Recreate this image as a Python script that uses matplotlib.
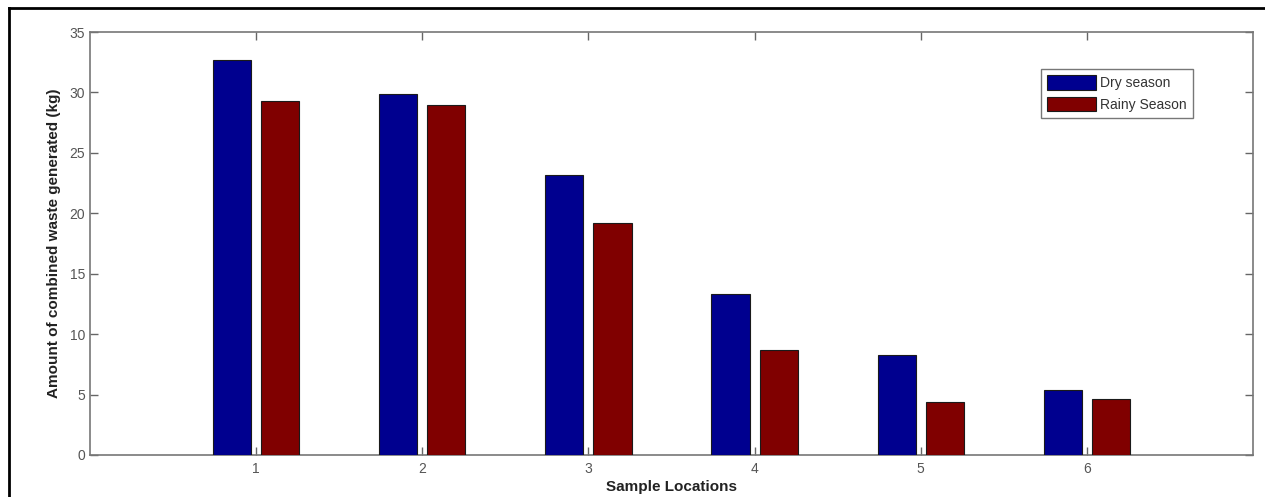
import numpy as np
import matplotlib
matplotlib.use("Agg")
import matplotlib.pyplot as plt
from matplotlib.lines import Line2D

plt.rcParams['font.family'] = ['Liberation Sans', 'DejaVu Sans']

locations = [1, 2, 3, 4, 5, 6]
dry_season = [32.7, 29.9, 23.2, 13.3, 8.3, 5.4]
rainy_season = [29.3, 29.0, 19.2, 8.7, 4.4, 4.6]
series_labels = ['Dry season', 'Rainy Season']

W, H = 1265, 497
fig = plt.figure(figsize=(W / 100, H / 100), dpi=100)
ax = fig.add_axes([90 / W, 1 - 455 / H, (1253 - 90) / W, (455 - 32) / H])

x = np.array(locations)
bw = 0.23
ax.bar(x - 0.145, dry_season, bw, color='#00008f', edgecolor='#1a1a1a', linewidth=0.8,
       label=series_labels[0], zorder=3)
ax.bar(x + 0.145, rainy_season, bw, color='#800000', edgecolor='#1a1a1a', linewidth=0.8,
       label=series_labels[1], zorder=3)

ax.set_xlim(0, 7)
ax.set_ylim(0, 35)
ax.set_xticks(locations)
ax.set_yticks(np.arange(0, 36, 5))
ax.tick_params(direction='in', top=True, right=True, length=6, width=1,
               colors='#666666', labelsize=10, labelcolor='#555555')
ax.tick_params(axis='x', pad=5)
for s in ax.spines.values():
    s.set_color('#777777')
    s.set_linewidth(1.2)

ax.set_ylabel('Amount of combined waste generated (kg)', fontsize=11, fontweight='bold',
              color='#222222', labelpad=6)
ax.set_xlabel('Sample Locations', fontsize=11, fontweight='bold', color='#222222', labelpad=3)

leg = ax.legend(loc='upper right', bbox_to_anchor=(1193 / W, 1 - 69 / H),
                bbox_transform=fig.transFigure, fontsize=10, fancybox=False,
                handlelength=3.5, handleheight=1.25, handletextpad=0.3,
                borderpad=0.45, labelspacing=0.45, borderaxespad=0)
leg.get_frame().set_edgecolor('#555555')
leg.get_frame().set_linewidth(1.0)
for t in leg.get_texts():
    t.set_color('#333333')

# outer table-like border
fig.add_artist(Line2D([9 / W, 1], [1 - 8 / H, 1 - 8 / H], color='black', lw=2,
                      transform=fig.transFigure))
fig.add_artist(Line2D([9 / W, 9 / W], [0, 1 - 8 / H], color='black', lw=2,
                      transform=fig.transFigure))

fig.savefig('out.png', dpi=100)
